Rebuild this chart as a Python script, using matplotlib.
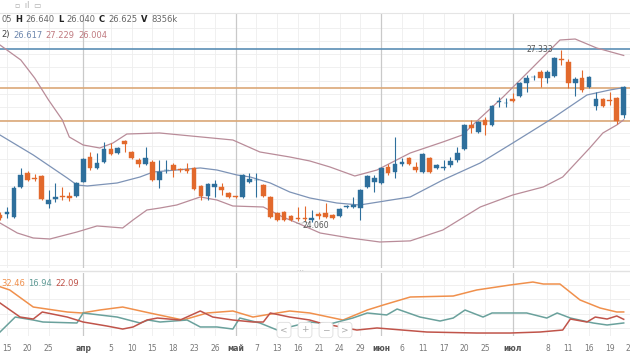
import matplotlib
matplotlib.use("Agg")
import matplotlib.pyplot as plt
import numpy as np
from matplotlib.offsetbox import TextArea, HPacker, AnchoredOffsetbox

# ---------------- data ----------------
opens  = [24.193,24.212,24.155,24.726,24.992,24.897,24.935,24.402,24.498,24.536,
          24.555,24.555,24.821,25.297,25.088,25.202,25.449,25.373,25.601,25.392,
          25.240,25.164,25.202,24.859,25.040,25.145,25.055,25.069,25.088,24.745,
          24.555,24.726,24.726,24.612,24.540,24.536,24.821,24.850,24.764,24.536,
          24.231,24.250,24.174,24.120,24.115,24.098,24.212,24.231,24.193,24.174,
          24.340,24.345,24.326,24.726,24.821,24.802,25.107,25.011,25.164,25.278,
          25.107,25.011,25.278,25.088,25.088,25.145,25.240,25.449,25.906,25.773,
          26.001,25.906,26.335,26.315,26.401,26.458,26.705,26.810,26.914,26.800,
          26.838,27.150,27.105,26.705,26.800,26.629,26.267,26.401,26.380,26.420,
          26.105]
highs  = [24.250,24.345,24.745,25.088,25.030,24.973,24.954,24.669,24.802,24.726,
          24.631,24.821,25.278,25.392,25.373,25.582,25.563,25.487,25.620,25.411,
          25.278,25.487,25.240,25.240,25.240,25.183,25.088,25.183,25.107,24.764,
          24.802,24.859,24.802,24.631,24.555,24.973,24.992,24.992,24.783,24.555,
          24.250,24.269,24.193,24.345,24.364,24.288,24.250,24.421,24.212,24.326,
          24.383,24.536,24.688,24.954,24.954,25.107,25.164,25.677,25.278,25.297,
          25.202,25.373,25.297,25.164,25.240,25.297,25.487,25.925,26.001,25.982,
          26.058,26.286,26.439,26.420,26.516,26.724,26.857,26.857,26.952,26.952,
          27.200,27.333,27.162,26.819,26.952,26.838,26.534,26.420,26.534,26.439,
          26.640]
lows   = [24.098,24.136,24.136,24.707,24.840,24.840,24.478,24.326,24.440,24.478,
          24.459,24.536,24.821,25.049,25.069,25.183,25.335,25.354,25.392,25.259,
          25.107,25.145,24.840,24.707,24.992,24.916,25.011,24.992,24.669,24.478,
          24.478,24.536,24.574,24.517,24.517,24.517,24.802,24.536,24.536,24.136,
          24.079,24.079,24.079,24.079,24.079,24.060,24.117,24.136,24.117,24.155,
          24.326,24.326,24.090,24.707,24.631,24.783,24.954,24.897,25.126,25.145,
          25.011,24.992,24.992,25.069,25.049,25.107,25.202,25.430,25.754,25.754,
          25.716,25.887,26.248,26.248,26.343,26.439,26.534,26.762,26.629,26.705,
          26.819,27.048,26.610,26.466,26.534,26.610,26.200,26.248,26.286,25.925,
          26.040]
closes = [24.136,24.250,24.707,24.954,24.859,24.878,24.498,24.478,24.536,24.530,
          24.517,24.802,25.259,25.088,25.183,25.449,25.354,25.468,25.544,25.278,
          25.164,25.278,24.859,25.011,25.055,25.049,25.045,25.030,24.688,24.555,
          24.783,24.783,24.669,24.536,24.532,24.954,24.878,24.865,24.555,24.155,
          24.098,24.098,24.098,24.112,24.110,24.136,24.174,24.155,24.136,24.307,
          24.350,24.383,24.669,24.935,24.897,25.088,24.992,25.164,25.202,25.164,
          25.049,25.354,25.011,25.145,25.107,25.221,25.373,25.906,25.849,25.963,
          25.906,26.267,26.350,26.330,26.363,26.705,26.800,26.825,26.800,26.914,
          27.181,27.135,26.705,26.781,26.572,26.819,26.401,26.267,26.370,25.982,
          26.625]

# Bollinger bands (candle index, price)
bb_up_idx  = [0, 3, 5, 7, 9, 10, 12, 14.4, 16.3, 18.3, 23, 33.6, 37.5, 41.8, 44.7,
              47.6, 51.2, 54.4, 59.2, 63.9, 66.7, 69.3, 72.6, 76.5, 80.8, 83, 86.1, 90]
bb_up_val  = [27.428, 27.143, 26.800, 26.382, 26.001, 25.677, 25.525, 25.468, 25.563,
              25.734, 25.754, 25.620, 25.392, 25.297, 25.221, 25.107, 24.935, 25.049,
              25.373, 25.582, 25.715, 26.039, 26.439, 26.952, 27.523, 27.542, 27.371, 27.229]
bb_mid_idx = [0, 4.8, 9.7, 11.1, 12.6, 16.9, 20.2, 22.1, 28.9, 31.3, 34.2, 36.1, 39,
              41.8, 44.7, 48.6, 51.9, 59.2, 63.9, 69.3, 74, 79.8, 84.7, 88, 90]
bb_mid_val = [25.715, 25.335, 24.897, 24.764, 24.745, 24.802, 24.916, 25.011, 25.088,
              25.049, 24.954, 24.916, 24.802, 24.631, 24.517, 24.421, 24.383, 24.536,
              24.859, 25.183, 25.563, 26.039, 26.477, 26.572, 26.617]
bb_low_idx = [0, 2.5, 4.8, 7.2, 11.1, 14, 17.7, 19.2, 21.2, 23.1, 25.5, 28.9, 31.3,
              33.6, 38, 40.8, 42.9, 46.2, 50.5, 54.8, 59.2, 63.9, 69.3, 74, 78.4,
              81.2, 85.1, 87, 89, 90]
bb_low_val = [24.041, 23.850, 23.755, 23.736, 23.869, 23.984, 23.946, 24.098, 24.288,
              24.326, 24.383, 24.536, 24.478, 24.364, 24.345, 24.155, 24.041, 23.850,
              23.755, 23.679, 23.700, 23.907, 24.345, 24.574, 24.726, 24.916, 25.468,
              25.754, 25.906, 26.004]

# horizontal levels
level_blue = 27.35
levels_orange = [26.61, 25.98]

# ADX / +DI / -DI (candle index, value)
adx_idx = [0, 1.4, 4.8, 9.7, 11.8, 14.4, 17.7, 21.6, 26.4, 29.9, 33.6, 36.5, 40, 41.8,
           44.7, 49.5, 53, 55.3, 59.2, 65.4, 68.8, 73.6, 76.9, 78.4, 80.8, 83.7, 86.6, 89, 90]
adx_val = [68.0, 63.4, 39.4, 32.4, 31.0, 35.2, 39.4, 31.0, 21.1, 31.0, 33.8, 25.3, 31.0,
           33.8, 31.0, 21.1, 35.2, 42.2, 53.5, 54.9, 63.4, 70.4, 74.6, 71.8, 71.8, 49.3,
           38.0, 32.4, 32.46]
pdi_idx = [0, 2.2, 4.8, 6.2, 11.1, 12, 14.4, 16.9, 20.2, 21.4, 23.1, 27, 28.9, 31.3,
           33.6, 34.6, 37.5, 40, 44.7, 47.6, 50.9, 53, 55.8, 57.3, 60.6, 63.5, 65.4,
           67.1, 69.7, 71, 76, 78.9, 80.4, 82.3, 85.6, 87.6, 90]
pdi_val = [4.2, 25.3, 21.1, 18.3, 16.9, 31.0, 28.2, 25.3, 16.9, 21.1, 18.3, 21.1, 11.3,
           11.3, 8.4, 23.9, 16.9, 7.0, 18.3, 15.5, 23.9, 31.0, 28.2, 36.6, 25.3, 19.7,
           23.9, 35.2, 25.3, 31.0, 31.0, 23.9, 31.0, 23.9, 16.9, 14.1, 16.94]
mdi_idx = [0, 2.9, 4.8, 6.1, 9.7, 12, 15.4, 17.7, 19.2, 21.2, 22.7, 26, 28.9, 30.7,
           33.6, 36.5, 38, 39, 41.8, 44.7, 46.2, 51.5, 54.4, 61.6, 68.8, 73.6, 77.9,
           81.2, 82.3, 84.7, 85.9, 87.6, 89, 90]
mdi_val = [45.1, 25.3, 22.5, 32.4, 25.3, 18.3, 12.7, 8.4, 11.3, 21.1, 23.9, 21.1, 33.8,
           25.3, 21.1, 18.3, 18.3, 31.0, 25.3, 21.1, 16.9, 7.0, 9.9, 4.2, 2.8, 2.8, 4.2,
           7.0, 22.5, 18.3, 25.3, 22.5, 26.8, 22.09]

# x ticks (candle index, label)
tick_idx = [1, 4, 7, 12, 16, 19, 22, 25, 28, 31, 34, 37, 40, 43, 46, 49, 52, 55,
            58, 61, 64, 67, 70, 74, 79, 82, 85, 88, 91]
tick_lbl = ["15", "20", "25", "апр", "5", "10", "15", "18", "23", "26", "май", "7",
            "13", "16", "21", "24", "29", "июн", "6", "11", "17", "20", "25", "июл",
            "8", "11", "16", "19", "24"]
month_idx = [12, 34, 55, 74]

# ---------------- styling ----------------
W, H = 630, 355
UP = "#2e6f9c"
DN = "#e2692c"
BB_OUT = "#b98c99"
BB_MID = "#7d93b6"
GRID = "#eeeeee"
MONTH = "#c9c9c9"

fig = plt.figure(figsize=(W / 100, H / 100), dpi=100)
fig.patch.set_facecolor("white")

def fr(px_left, px_top, px_w, px_h):
    return [px_left / W, 1 - (px_top + px_h) / H, px_w / W, px_h / H]

XL = (-1, 92)
px_per = 6.93
ax_left = XL[0] * px_per
ax_w = (XL[1] - XL[0]) * px_per

# main axes
ax = fig.add_axes(fr(ax_left, 14, ax_w, 254))
ax.set_xlim(*XL)
ax.set_ylim(23.184, 28.018)
for s in ax.spines.values():
    s.set_visible(False)
ax.set_xticks([])
ax.set_yticks([])

# grid
for t in tick_idx:
    ax.axvline(t, color=GRID, lw=0.6, zorder=0)
for p in np.arange(23.25, 28.0, 0.25):
    ax.axhline(p, color=GRID, lw=0.6, zorder=0)
for m in month_idx:
    ax.axvline(m, color=MONTH, lw=0.9, zorder=0.5)

# levels
ax.axhline(level_blue, color="#5b8fb5", lw=1.2, zorder=1)
for lv in levels_orange:
    ax.axhline(lv, color="#dba878", lw=1.2, zorder=1)

# bands
ax.plot(bb_up_idx, bb_up_val, color=BB_OUT, lw=0.9, zorder=2)
ax.plot(bb_low_idx, bb_low_val, color=BB_OUT, lw=0.9, zorder=2)
ax.plot(bb_mid_idx, bb_mid_val, color=BB_MID, lw=0.9, zorder=2)

# candles
idx = np.arange(len(opens))
o = np.array(opens); c = np.array(closes); h = np.array(highs); l = np.array(lows)
cols = np.where(c >= o, UP, DN)
ax.vlines(idx, l, h, colors=cols, lw=0.8, zorder=3)
body_lo = np.minimum(o, c)
body_h = np.maximum(np.abs(c - o), 0.018)
ax.bar(idx, body_h, bottom=body_lo, width=0.68, color=cols, edgecolor=cols, lw=0.3, zorder=4)

# extreme labels
hi_i = int(np.argmax(h)); lo_i = int(np.argmin(l))
ax.text(hi_i - 1.2, h[hi_i], f"{h[hi_i]:.3f}", fontsize=5.5, color="#555555",
        ha="right", va="center", zorder=5)
ax.plot([lo_i - 2.2, lo_i], [l[lo_i] - 0.03, l[lo_i]], color="#777777", lw=0.5, ls=(0, (1, 1)), zorder=5)
ax.text(lo_i - 1.3, l[lo_i] - 0.06, f"{l[lo_i]:.3f}", fontsize=5.5, color="#555555",
        ha="left", va="center", zorder=5)

def packed(x, y, parts, size=6.0, sep=2.5):
    areas = [TextArea(txt, textprops=dict(color=col, fontsize=size, fontweight=wt))
             for txt, col, wt in parts]
    box = HPacker(children=areas, align="baseline", pad=0, sep=sep)
    ab = AnchoredOffsetbox(loc="center left", child=box, pad=0, frameon=False,
                           bbox_to_anchor=(x / W, 1 - y / H),
                           bbox_transform=fig.transFigure, borderpad=0)
    fig.add_artist(ab)

GRAY = "#666666"
packed(1, 20, [("05", GRAY, "normal"), ("H", "#222222", "bold"), ("26.640", GRAY, "normal"),
               ("L", "#222222", "bold"), ("26.040", GRAY, "normal"),
               ("C", "#222222", "bold"), ("26.625", GRAY, "normal"),
               ("V", "#222222", "bold"), ("8356k", GRAY, "normal")])
packed(1, 35, [("2)", "#444444", "normal"), ("26.617", "#6c86ad", "normal"),
               ("27.229", "#c07a80", "normal"), ("26.004", "#c07a80", "normal")])

# top icons (simple glyph-like text)
fig.text(15 / W, 1 - 5 / H, "▫  ıl  ▭", fontsize=5.5, color="#aaaaaa", va="center", ha="left")
fig.add_artist(plt.Line2D([0, 1], [1 - 13 / H, 1 - 13 / H], color="#e5e5e5", lw=0.8))

# separator between panels
fig.add_artist(plt.Line2D([0, 1], [1 - 271 / H, 1 - 271 / H], color="#e2e2e2", lw=1.0))
fig.text(300 / W, 1 - 271 / H, "⋯", fontsize=5, color="#bbbbbb", ha="center", va="center")

# lower panel
ax2 = fig.add_axes(fr(ax_left, 273, ax_w, 63))
ax2.set_xlim(*XL)
ax2.set_ylim(-1.4, 87.3)
for s in ax2.spines.values():
    s.set_visible(False)
ax2.set_yticks([])
for t in tick_idx:
    ax2.axvline(t, color=GRID, lw=0.6, zorder=0)
for v in [10, 30, 50, 70]:
    ax2.axhline(v, color=GRID, lw=0.6, zorder=0)
for m in month_idx:
    ax2.axvline(m, color=MONTH, lw=0.9, zorder=0.5)
ax2.plot(adx_idx, adx_val, color="#f0904c", lw=1.1, zorder=2)
ax2.plot(pdi_idx, pdi_val, color="#6aa19c", lw=1.1, zorder=2)
ax2.plot(mdi_idx, mdi_val, color="#c0544a", lw=1.1, zorder=2)
packed(1, 284, [("32.46", "#f0904c", "normal"), ("16.94", "#5f9a95", "normal"),
                ("22.09", "#c0544a", "normal")])

ax2.set_xticks(tick_idx)
ax2.set_xticklabels(tick_lbl)
ax2.tick_params(axis="x", length=0, pad=6, labelsize=5.5, labelcolor="#777777")
for lbl, txt in zip(ax2.get_xticklabels(), tick_lbl):
    if txt in ("апр", "май", "июн", "июл"):
        lbl.set_fontweight("bold")
        lbl.set_color("#555555")

# navigation buttons overlay
for cx, sym in [(284, "<"), (305, "+"), (326, "−"), (345, ">")]:
    fig.text(cx / W, 1 - 330 / H, sym, fontsize=6.5, color="#aaaaaa", ha="center", va="center",
             bbox=dict(boxstyle="round,pad=0.35", fc="white", ec="#dddddd", lw=0.6))

fig.savefig("out.png", dpi=100, facecolor="white")
